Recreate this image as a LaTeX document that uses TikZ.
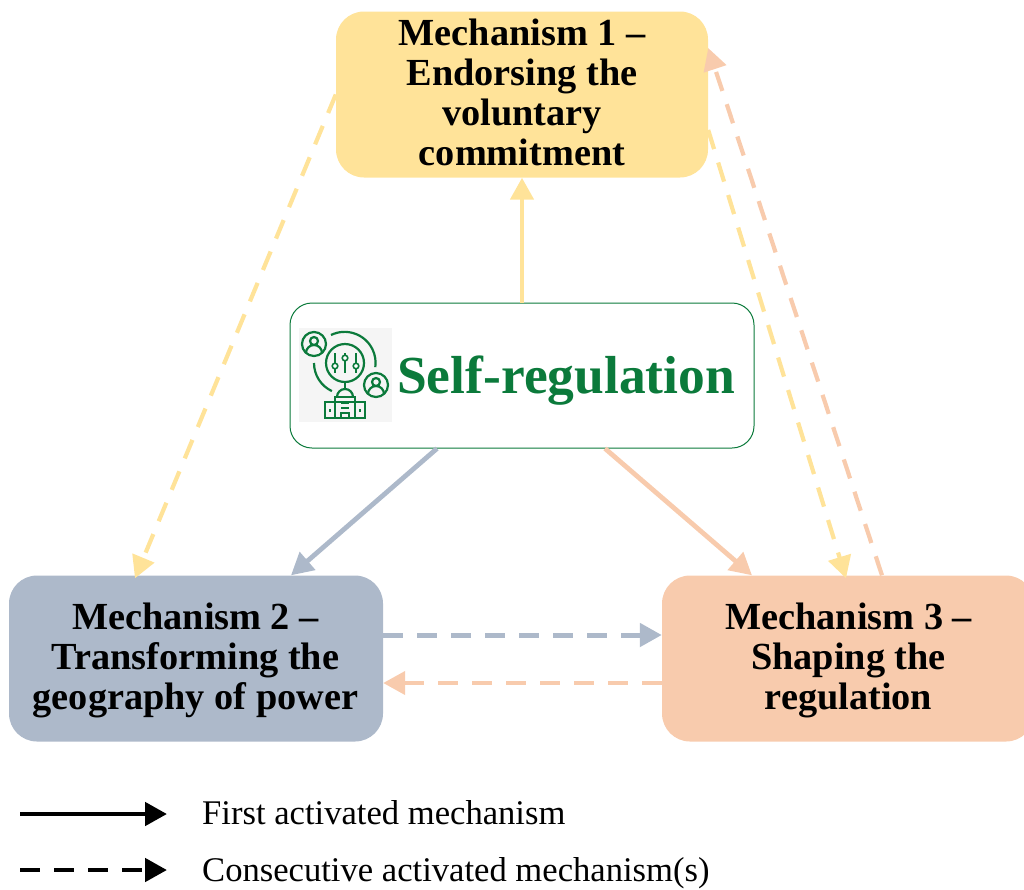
\documentclass[tikz,border=0pt]{standalone}
\usepackage{fontspec}
\setmainfont{Liberation Serif}
\usetikzlibrary{arrows.meta}
\definecolor{mechyellow}{HTML}{FFE399}
\definecolor{mechblue}{HTML}{ADB9CA}
\definecolor{mechorange}{HTML}{F8CBAD}
\definecolor{selfgreen}{HTML}{0B7A3B}
\tikzset{
    mech/.style={inner sep=0, minimum height=166pt, rounded corners=28pt},
    mechtext/.style={inner sep=0, align=center, font=\fontsize{38.3}{40}\selectfont\bfseries},
    link/.style={line width=4.8pt, -{Triangle[length=22pt,width=23pt]}},
    linkdash/.style={link, line width=4.2pt, dash pattern=on 20pt off 14pt},
    icon/.style={draw=selfgreen, line width=2.2pt},
    legend/.style={anchor=west, inner sep=0, font=\fontsize{34.6}{36}\selectfont}
}
\begin{document}
\begin{tikzpicture}[x=1pt,y=-1pt]
    \useasboundingbox (0,0) rectangle (1024,889);
    \clip (0,0) rectangle (1024,889);

    \node[mech, fill=mechyellow, minimum width=372pt] (M1) at (522,94.5) {};
    \node[mech, fill=mechblue, minimum width=374pt] (M2) at (196,658.5) {};
    \node[mech, fill=mechorange, minimum width=372pt] (M3) at (848,658.5) {};
    \node[mechtext] (M1t) at (522,92) {Mechanism 1 --\\Endorsing the\\voluntary\\commitment};
    \node[mechtext] (M2t) at (195.5,660.5) {Mechanism 2 --\\Transforming the\\geography of power};
    \node[mechtext] (M3t) at (848.5,660.5) {Mechanism 3 --\\Shaping the\\regulation};
    \node[draw=selfgreen, line width=1pt, rounded corners=22pt, minimum width=464pt, minimum height=145pt] (S) at (522,375.5) {};
    \node[anchor=west, inner sep=0, text=selfgreen, font=\fontsize{53.5}{56}\selectfont\bfseries] (T) at (397,381) {Self-regulation};

    % icon
    \fill[black!4] (299,328) rectangle (392,422);
    \draw[icon] (314,344) circle (12);
    \draw[icon] (314,341) circle (4) (306,353) arc (180:360:8);
    \draw[icon] (376,385) circle (12);
    \draw[icon] (376,382) circle (4) (368,394) arc (180:360:8);
    \draw[icon] (345,363) circle (19);
    \draw[icon] (331,335) arc (-116:8:31);
    \draw[icon] (314,363) arc (180:115:31);
    \draw[icon] (335,353) -- (335,373) (345,353) -- (345,373) (356,353) -- (356,373);
    \fill[white, draw=selfgreen, line width=1.6pt] (335,366) circle (2.8) (345,358) circle (2.8) (356,366) circle (2.8);
    \draw[icon] (345,382) -- (345,389);
    \draw[icon] (337,397) arc (180:360:8);
    \draw[icon] (335,418) -- (335,397) -- (355,397) -- (355,418);
    \draw[icon] (325,418) rectangle (365,402);
    \draw[icon] (341,403) -- (349,403) (341,408) -- (349,408) (341,418) -- (341,413) -- (349,413) -- (349,418);
    \draw[icon] (330,409) -- (330,412) (360,409) -- (360,412);

    \draw[link, mechyellow] (S.north) -- (M1.south);
    \draw[link, mechblue] ([xshift=-85pt]S.south) -- ([xshift=95pt]M2.north);
    \draw[link, mechorange] ([xshift=83pt]S.south) -- ([xshift=-96pt]M3.north);

    \draw[linkdash, mechyellow] (M1.west) -- ([xshift=-61pt,yshift=-3pt]M2.north);
    \draw[linkdash, mechyellow] ([yshift=-35.5pt]M1.east) -- ([xshift=-2pt,yshift=-3pt]M3.north);
    \draw[linkdash, mechorange] ([xshift=34pt]M3.north) -- ([yshift=46.5pt]M1.east);
    \draw[linkdash, mechblue, line width=5pt] ([yshift=23.5pt]M2.east) -- ([yshift=23.5pt]M3.west);
    \draw[linkdash, mechorange] ([yshift=-24.5pt]M3.west) -- ([yshift=-24.5pt]M2.east);

    % legend
    \node[legend] (L1) at (202,813) {First activated mechanism};
    \node[legend] (L2) at (202,873) {Consecutive activated mechanism(s)};
    \coordinate (A1) at (20,814);
    \coordinate (B1) at (167,814);
    \coordinate (A2) at (20,870);
    \coordinate (B2) at (167,870);
    \draw[link, black] (A1) -- (B1);
    \draw[linkdash, black, line width=4.8pt] (A2) -- (B2);
\end{tikzpicture}
\end{document}
